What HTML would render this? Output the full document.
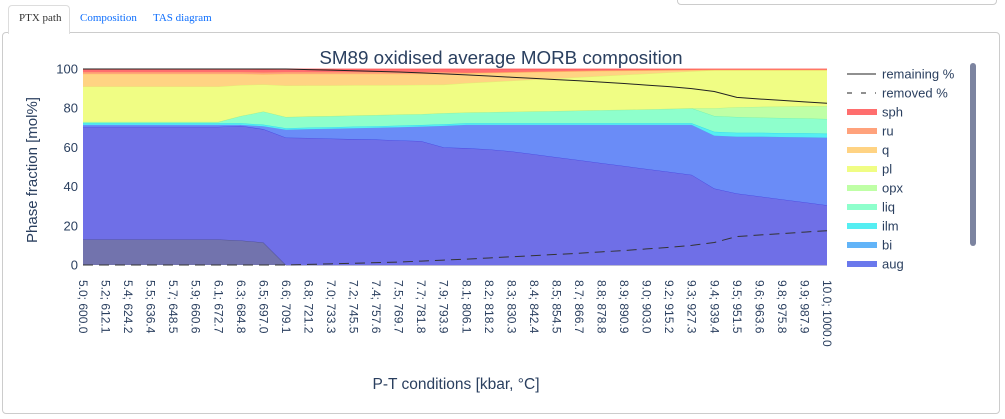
<!DOCTYPE html>
<html><head><meta charset="utf-8">
<style>
body{margin:0;width:1005px;height:419px;background:#fff;overflow:hidden;font-family:"Liberation Sans",sans-serif;position:relative}
.tab{position:absolute;top:12px;font-family:"Liberation Serif",serif;font-size:11px;color:#0d6efd}
</style></head><body>
<div style="position:absolute;left:677px;top:-6px;width:318px;height:9px;border:1px solid #ccc;border-radius:4px"></div>
<div style="position:absolute;left:8px;top:5px;width:60px;height:28px;border:1px solid #ddd;border-bottom:none;border-radius:4px 4px 0 0;background:#fff;z-index:2"></div>
<div class="tab" style="left:19px;color:#333;z-index:3">PTX path</div>
<div class="tab" style="left:80px">Composition</div>
<div class="tab" style="left:153px">TAS diagram</div>
<div style="position:absolute;left:2px;top:32px;width:996px;height:380px;border:1px solid #ccc;border-radius:4px"></div>
<svg id="chart" width="1005" height="419" style="position:absolute;left:0;top:0" xmlns="http://www.w3.org/2000/svg"></svg>
<script>
const categories=["5.0; 600.0","5.2; 612.1","5.4; 624.2","5.5; 636.4","5.7; 648.5","5.9; 660.6","6.1; 672.7","6.3; 684.8","6.5; 697.0","6.6; 709.1","6.8; 721.2","7.0; 733.3","7.2; 745.5","7.4; 757.6","7.5; 769.7","7.7; 781.8","7.9; 793.9","8.1; 806.1","8.2; 818.2","8.3; 830.3","8.4; 842.4","8.5; 854.5","8.7; 866.7","8.8; 878.8","8.9; 890.9","9.0; 903.0","9.2; 915.2","9.3; 927.3","9.4; 939.4","9.5; 951.5","9.6; 963.6","9.8; 975.8","9.9; 987.9","10.0; 1000.0"];
const g  =[13,13,13,13,13,13,13,12.5,11.5,0,0,0,0,0,0,0,0,0,0,0,0,0,0,0,0,0,0,0,0,0,0,0,0,0];
const aug=[57.5,57.5,57.5,57.5,57.5,57.5,57.5,58.5,57.8,65,64.8,64.5,64.2,64,63.6,63.2,60,59.6,59,58,56.5,55,53.5,52,50.5,49,47.5,46,39,36.5,35,33.5,32,30.5];
const bi =[1,1,1,1,1,1,1,0.5,1.5,4,4.5,5,5.6,6,6.7,7.4,11,11.9,12.5,13.5,15,16.5,18,19.5,21,22.5,24,25.5,27,29,30.5,31.8,33.2,34.5];
const ilm=[0.8,0.8,0.8,0.8,0.8,0.8,0.8,0.8,0.8,0.8,0.8,0.8,0.8,0.8,0.8,0.8,0.8,0.8,0.8,0.8,0.8,0.8,0.8,0.8,0.8,0.8,0.8,0.8,2,2,2,2,2,2];
const liq=[0.7,0.7,0.7,0.7,0.7,0.7,0.7,3.7,6.7,5.7,5.7,5.7,5.7,5.7,5.7,5.6,5.7,5.5,5.7,5.9,6.1,6.3,6.5,6.7,6.9,7.1,7.4,7.7,8,8,7.7,7.7,7.6,7.5];
const opx=[0,0,0,0,0,0,0,0,0,0,0,0,0,0,0,0,0,0,0,0,0,0,0,0,0,0,0,0,4,5,5.5,5.8,6.1,6.5];
const pl =[18,18,18,18,18,18,18,15.8,13.8,16,15.8,15.6,15.4,15.2,15,14.9,14.5,15,15.4,15.8,16.2,16.6,17,17.4,17.8,18.2,18.5,18.8,19.4,18.9,18.7,18.6,18.5,18.4];
const q  =[6.5,6.5,6.5,6.5,6.5,6.5,6.5,5.7,5.2,6,5.9,5.9,5.8,5.8,5.7,5.6,5.5,5,4.6,4.2,3.8,3.4,3,2.6,2.1,1.6,1.1,0.6,0.1,0.1,0.1,0.1,0.1,0.1];
const ru =[1,1,1,1,1,1,1,1,1,1,1,1,1,1,1,1,1,0.3,0.3,0.3,0.3,0.3,0.3,0.3,0.3,0.3,0.3,0.3,0.3,0.3,0.3,0.3,0.3,0.3];
const sph=[1.5,1.5,1.5,1.5,1.5,1.5,1.5,1.5,1.5,1.5,1.5,1.5,1.5,1.5,1.5,1.5,1.5,1.9,1.7,1.5,1.3,1.1,0.9,0.7,0.6,0.5,0.4,0.3,0.2,0.2,0.2,0.2,0.2,0.2];
const removed=[0,0,0,0,0,0,0,0,0,0,0.3,0.6,0.9,1.2,1.5,2,2.5,3,3.6,4.2,4.8,5.4,6,6.7,7.4,8.2,9,10,11.5,14.5,15.3,16,16.8,17.5];
const remaining=[100,100,100,100,100,100,100,100,100,100,99.7,99.4,99.1,98.8,98.5,98,97.5,97,96.4,95.8,95.2,94.6,94,93.3,92.6,91.8,91,90,88.5,85.5,84.7,84,83.2,82.5];
const yTicks=[0,20,40,60,80,100];

const S=document.getElementById('chart'),NS='http://www.w3.org/2000/svg';
const X0=83,X1=827,Y0=265,Y1=69;
const xs=i=>X0+i*(X1-X0)/(categories.length-1);
const ys=v=>Y0-(v/100)*(Y0-Y1);
function mk(t,a,p){const e=document.createElementNS(NS,t);for(const k in a)e.setAttribute(k,a[k]);(p||S).appendChild(e);return e;}
const layers=[["g",g,"#7273ad","#4a4a8a"],["aug",aug,"#6f6fe7","#4646e0"],["bi",bi,"#6a8cf7","#5a9cf0"],["ilm",ilm,"#55eef2","#30d8f0"],["liq",liq,"#8effcc","#70f0b0"],["opx",opx,"#bfffa6","#a8f090"],["pl",pl,"#f0fd84","#e0f070"],["q",q,"#ffd383","#ffc060"],["ru",ru,"#ffa27c","#ff9060"],["sph",sph,"#ff6e6e","#ff5050"]];
let base=categories.map(()=>0);
layers.forEach(([n,v,fc,lc])=>{
  const top=base.map((b,i)=>b+v[i]);
  let d='M'+top.map((t,i)=>xs(i)+','+ys(t)).join('L');
  for(let i=categories.length-1;i>=0;i--)d+='L'+xs(i)+','+ys(base[i]);
  const p=mk('path',{d:d+'Z',fill:fc,stroke:'none'});
  
  
  const l=mk('path',{d:'M'+top.map((t,i)=>xs(i)+','+ys(t)).join('L'),fill:'none',stroke:lc,'stroke-width':0.8});
  
  
  base=top;
});
const rl=mk('path',{d:'M'+remaining.map((v,i)=>xs(i)+','+ys(v)).join('L'),fill:'none',stroke:'#222','stroke-width':1});


const rm=mk('path',{d:'M'+removed.map((v,i)=>xs(i)+','+ys(v)).join('L'),fill:'none',stroke:'#333','stroke-width':1,'stroke-dasharray':'10,6'});


yTicks.forEach(t=>{const e=mk('text',{x:X0-5,y:ys(t)+4.5,'text-anchor':'end','font-size':13,fill:'#2a3f5f'});e.textContent=t;
  
  });
categories.forEach((c,i)=>{const e=mk('text',{transform:`translate(${xs(i)-4},280) rotate(90)`,'font-size':12,fill:'#2a3f5f'});e.textContent=c;
  
  });
let e=mk('text',{x:501,y:64,'text-anchor':'middle','font-size':18.8,fill:'#2a3f5f'});e.textContent='SM89 oxidised average MORB composition';

e=mk('text',{transform:'translate(37,170) rotate(-90)','text-anchor':'middle','font-size':15,fill:'#2a3f5f'});e.textContent='Phase fraction [mol%]';

e=mk('text',{x:456,y:389,'text-anchor':'middle','font-size':15.5,fill:'#2a3f5f'});e.textContent='P-T conditions [kbar, °C]';

const leg=[["remaining %","solid"],["removed %","dash"],["sph","#ff6e6e"],["ru","#ffa27c"],["q","#ffd383"],["pl","#f0fd84"],["opx","#bfffa6"],["liq","#8effcc"],["ilm","#55eef2"],["bi","#62b4f8"],["aug","#6a78ec"]];
leg.forEach(([n,s],k)=>{const y=74+k*19;
  if(s=='solid')mk('line',{x1:847,x2:876,y1:y,y2:y,stroke:'#222','stroke-width':1});
  else if(s=='dash')mk('line',{x1:847,x2:876,y1:y,y2:y,stroke:'#222','stroke-width':1,'stroke-dasharray':'5,9'});
  else mk('rect',{x:847,y:y-3,width:30,height:6,fill:s});
  const t=mk('text',{x:882,y:y+4.5,'font-size':13,fill:'#2a3f5f'});t.textContent=n;
  
  });
const sb=mk('rect',{x:970,y:63,width:6,height:183,rx:3,fill:'#7c84a0'});


</script>
</body></html>
